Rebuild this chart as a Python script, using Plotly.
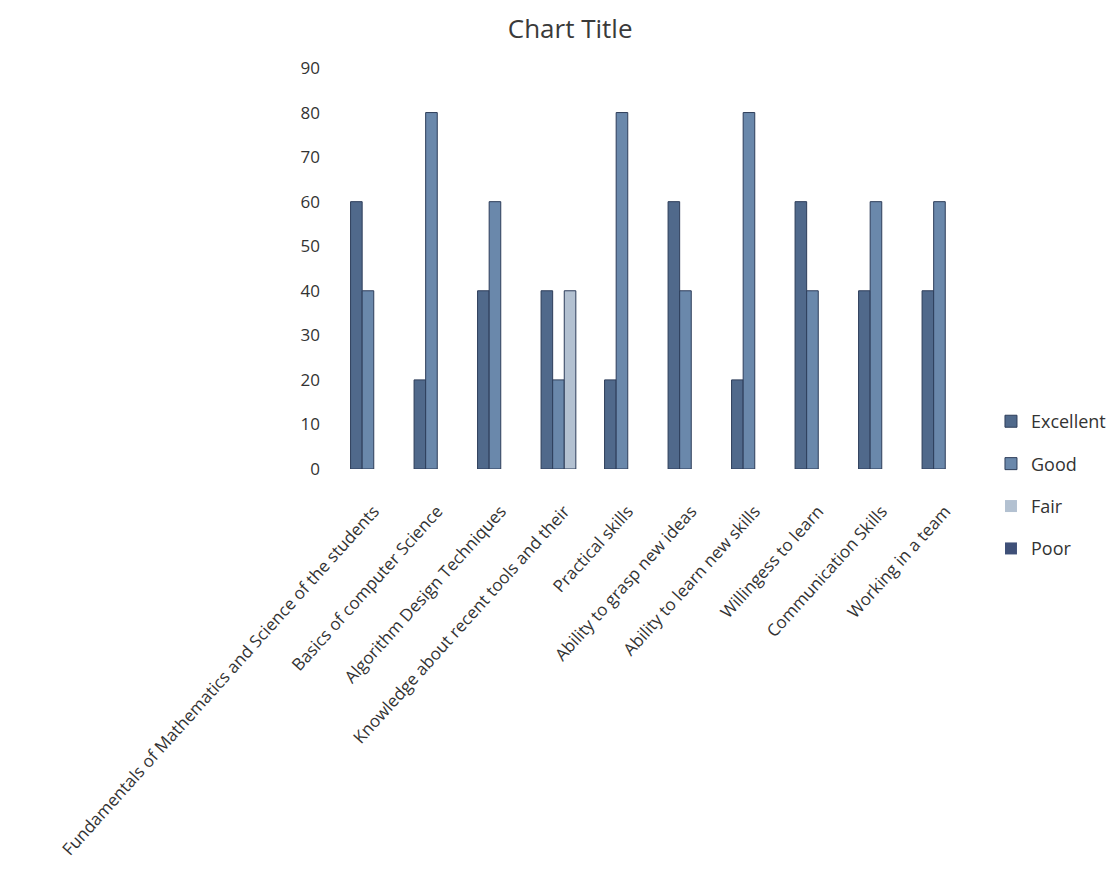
import plotly.graph_objects as go

categories = [
    "Fundamentals of Mathematics and Science of the students",
    "Basics of computer Science",
    "Algorithm Design Techniques",
    "Knowledge about recent tools and their",
    "Practical skills",
    "Ability to grasp new ideas",
    "Ability to learn new skills",
    "Willingess to learn",
    "Communication Skills",
    "Working in a team",
]
excellent = [60, 20, 40, 40, 20, 60, 20, 60, 40, 40]
good = [40, 80, 60, 20, 80, 40, 80, 40, 60, 60]
fair = [0, 0, 0, 40, 0, 0, 0, 0, 0, 0]
poor = [0, 0, 0, 0, 0, 0, 0, 0, 0, 0]
y_ticks = [0, 10, 20, 30, 40, 50, 60, 70, 80, 90]

series = [
    ("Excellent", excellent, "#50698b"),
    ("Good", good, "#6a88ab"),
    ("Fair", fair, "#b3c1d1"),
    ("Poor", poor, "#3f5078"),
]

fig = go.Figure()
for name, vals, color in series:
    fig.add_trace(go.Bar(
        x=categories, y=vals, name=name, legendgroup=name,
        marker=dict(color=color,
                    line=dict(color="#2d3d5a", width=[1 if v > 0 else 0 for v in vals])),
    ))

font = "Open Sans, Lato, sans-serif"
fig.update_layout(
    width=1111, height=880,
    paper_bgcolor="white", plot_bgcolor="white",
    margin=dict(l=334, r=142, t=60, b=419, autoexpand=False),
    barmode="group", bargap=0.27, bargroupgap=0,
    title=dict(text="Chart Title", x=0.506, xref="container", xanchor="center",
               y=0.976, yanchor="middle",
               font=dict(family=font, size=26, color="#3a3a3a")),
    font=dict(family=font, color="#333333"),
    showlegend=True,
    legend=dict(x=1.022, xanchor="left", y=-0.04, yanchor="middle",
                font=dict(size=18, color="#333333"), tracegroupgap=16,
                itemwidth=30),
    xaxis=dict(tickangle=-48, tickfont=dict(size=17, color="#333333"),
               showline=False, ticks="", showgrid=False, automargin=False,
               ticklabelstandoff=28),
    yaxis=dict(range=[0, 90], tickvals=y_ticks, tickfont=dict(size=17, color="#333333"),
               showgrid=False, zeroline=False, showline=False, ticks="",
               ticklabelstandoff=21, automargin=False),
)

fig.write_html("out.html")
